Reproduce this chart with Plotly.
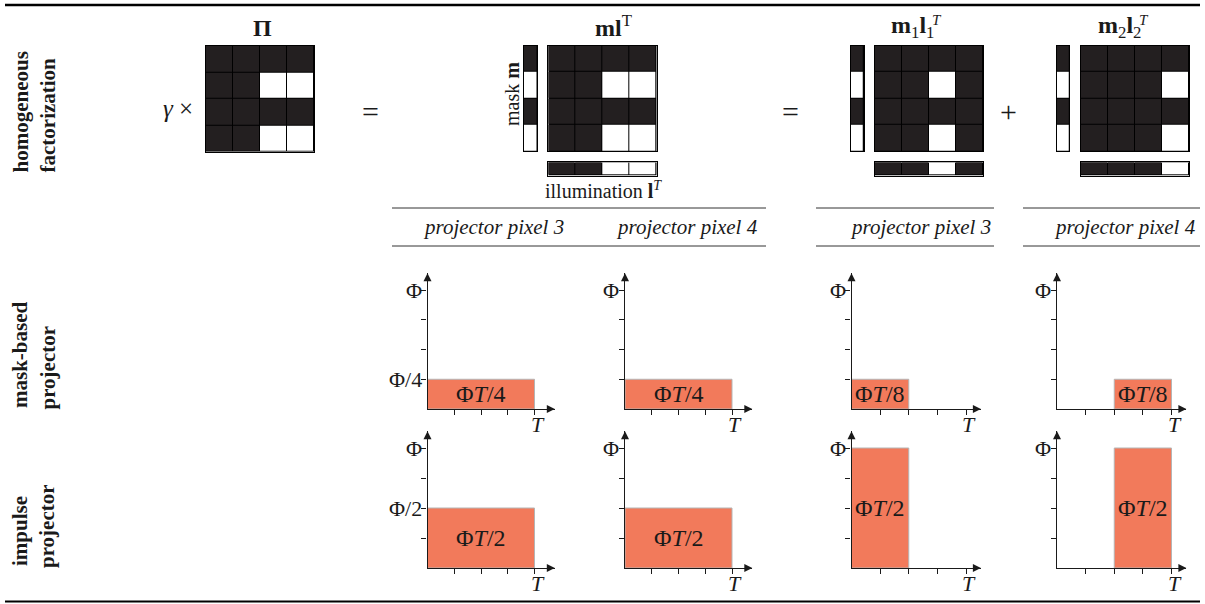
import plotly.graph_objects as go

W, H = 1205, 604

# ---------------- data ----------------
# matrices: 1 = dark cell, 0 = white cell
PI = [[1, 1, 1, 1], [1, 1, 0, 0], [1, 1, 1, 1], [1, 1, 0, 0]]
MASK_M = [1, 0, 1, 0]
ILLUM_L = [1, 1, 0, 0]
ML = [[1, 1, 1, 1], [1, 1, 0, 0], [1, 1, 1, 1], [1, 1, 0, 0]]
MASK_M1 = [1, 0, 1, 0]
ILLUM_L1 = [1, 1, 0, 1]
M1L1 = [[1, 1, 1, 1], [1, 1, 0, 1], [1, 1, 1, 1], [1, 1, 0, 1]]
MASK_M2 = [1, 0, 1, 0]
ILLUM_L2 = [1, 1, 1, 0]
M2L2 = [[1, 1, 1, 1], [1, 1, 1, 0], [1, 1, 1, 1], [1, 1, 1, 0]]

COL_TITLES = ["projector pixel 3", "projector pixel 4",
              "projector pixel 3", "projector pixel 4"]
ROW_LABELS = [["homogeneous", "factorization"],
              ["mask-based", "projector"],
              ["impulse", "projector"]]

# exposure diagrams (time in units of T, intensity in units of Phi)
MASK_START = [0, 0, 0, 0.5]
MASK_END = [1, 1, 0.5, 1]
MASK_HEIGHT = [0.25, 0.25, 0.25, 0.25]
MASK_LABEL = ["Φ<i>T</i>/4", "Φ<i>T</i>/4", "Φ<i>T</i>/8", "Φ<i>T</i>/8"]
IMP_START = [0, 0, 0, 0.5]
IMP_END = [1, 1, 0.5, 1]
IMP_HEIGHT = [0.5, 0.5, 1, 1]
IMP_LABEL = ["Φ<i>T</i>/2", "Φ<i>T</i>/2", "Φ<i>T</i>/2", "Φ<i>T</i>/2"]

X_TICKS = [0.25, 0.5, 0.75, 1]
X_TICKTEXT = ["", "", "", "<i>T</i>"]
Y_TICKS = [0.25, 0.5, 0.75, 1]
MASK_YTICKTEXT = [["Φ/4", "", "", "Φ"], ["", "", "", "Φ"],
                  ["", "", "", "Φ"], ["", "", "", "Φ"]]
IMP_YTICKTEXT = [["", "Φ/2", "", "Φ"], ["", "", "", "Φ"],
                 ["", "", "", "Φ"], ["", "", "", "Φ"]]

# ---------------- styles / layout geometry (pixels) ----------------
DARK = "#231f20"
FILL = "#f27a5b"
EDGE = "#b5b5b5"
INK = "#1a1a1a"
FONT = "Liberation Serif"

# plot columns: origin x, pixel width of T, arrow extension
PLOT_COLS = [(427.5, 107, 1.19), (625, 107, 1.19), (851.5, 114.5, 1.13), (1057, 114.5, 1.13)]
# plot rows: origin y, pixel height of Phi
PLOT_ROWS = [(409, 119), (568, 120)]
YEND = 1.14


def px_x(a):
    return a / W


def px_y(a):
    return 1 - a / H


fig = go.Figure()
layout = {}
annotations = []
shapes = []
axis_id = [0]


def new_axes():
    axis_id[0] += 1
    n = axis_id[0]
    xa = "xaxis" if n == 1 else f"xaxis{n}"
    ya = "yaxis" if n == 1 else f"yaxis{n}"
    xr = "x" if n == 1 else f"x{n}"
    yr = "y" if n == 1 else f"y{n}"
    return xa, ya, xr, yr


def add_matrix(z, left, right, top, bottom):
    xa, ya, xr, yr = new_axes()
    nr, nc = len(z), len(z[0])
    fig.add_trace(go.Heatmap(z=z, x=list(range(nc)), y=list(range(nr)),
                             colorscale=[[0, "#ffffff"], [1, DARK]], zmin=0, zmax=1,
                             showscale=False, xgap=1, ygap=1, hoverinfo="skip",
                             xaxis=xr, yaxis=yr))
    common = dict(showgrid=False, zeroline=False, showticklabels=False, ticks="",
                  showline=True, mirror=True, linecolor="black", linewidth=1, fixedrange=True)
    layout[xa] = dict(domain=[px_x(left), px_x(right)], range=[-0.5, nc - 0.5],
                      anchor=yr, **common)
    layout[ya] = dict(domain=[px_y(bottom), px_y(top)], range=[nr - 0.5, -0.5],
                      anchor=xr, **common)
    shapes.append(dict(type="rect", xref=xr, yref=yr, x0=-0.5, x1=nc - 0.5,
                       y0=-0.5, y1=nr - 0.5, fillcolor="black", line=dict(width=0),
                       layer="below"))


def col(v):
    return [[a] for a in v]


# homogeneous factorization row
add_matrix(PI, 206, 314, 45.7, 151.7)
add_matrix(col(MASK_M), 523.5, 537.3, 45.7, 151.3)
add_matrix(ML, 548.3, 656.7, 45.7, 151.3)
add_matrix([ILLUM_L], 548.3, 656.7, 162.3, 175.5)
add_matrix(col(MASK_M1), 850.7, 864, 45.7, 151.3)
add_matrix(M1L1, 875, 983.3, 45.7, 151.3)
add_matrix([ILLUM_L1], 875, 983.3, 162.3, 175.5)
add_matrix(col(MASK_M2), 1056.7, 1069.3, 45.7, 151.3)
add_matrix(M2L2, 1081, 1189.3, 45.7, 151.3)
add_matrix([ILLUM_L2], 1081, 1189.3, 162.3, 175.5)


def add_plot(ci, ri, s, e, h, label, ytext):
    x0, wT, xend = PLOT_COLS[ci]
    y0, hP = PLOT_ROWS[ri]
    xa, ya, xr, yr = new_axes()
    fig.add_trace(go.Bar(x=[(s + e) / 2], y=[h], width=[e - s], base=0,
                         marker=dict(color=FILL, line=dict(color=EDGE, width=1)),
                         hoverinfo="skip", xaxis=xr, yaxis=yr, showlegend=False))
    # arrowheads at the ends of the axes
    fig.add_trace(go.Scatter(x=[xend, 0], y=[0, YEND], mode="markers", cliponaxis=False,
                             marker=dict(symbol=["arrow-right", "arrow-up"], size=8,
                                         color=INK, line=dict(width=0)),
                             hoverinfo="skip", xaxis=xr, yaxis=yr, showlegend=False))
    common = dict(showgrid=False, zeroline=False, showline=True, linecolor=INK,
                  linewidth=1.2, ticks="outside", layer="above traces",
                  ticklen=5, tickwidth=1, tickcolor=INK, fixedrange=True,
                  showticklabels=False)
    layout[xa] = dict(domain=[px_x(x0), px_x(x0 + wT * xend)], range=[0, xend],
                      anchor=yr, tickvals=X_TICKS, **common)
    layout[ya] = dict(domain=[px_y(y0), px_y(y0 - hP * YEND)], range=[0, YEND],
                      anchor=xr, tickvals=Y_TICKS, **common)
    # tick labels
    for v, t in zip(X_TICKS, X_TICKTEXT):
        if t:
            annotations.append(dict(x=v, y=0, xref=xr, yref=yr, text=t, showarrow=False,
                                    xanchor="center", yanchor="top", xshift=3, yshift=-1,
                                    font=dict(family=FONT, size=22, color=INK)))
    for v, t in zip(Y_TICKS, ytext):
        if t:
            annotations.append(dict(x=0, y=v, xref=xr, yref=yr, text=t, showarrow=False,
                                    xanchor="right", yanchor="middle", xshift=-4,
                                    font=dict(family=FONT, size=22, color=INK)))
    annotations.append(dict(x=(s + e) / 2, y=h / 2, xref=xr, yref=yr, text=label,
                            showarrow=False, font=dict(family=FONT, size=24, color=INK)))


for i in range(4):
    add_plot(i, 0, MASK_START[i], MASK_END[i], MASK_HEIGHT[i], MASK_LABEL[i], MASK_YTICKTEXT[i])
for i in range(4):
    add_plot(i, 1, IMP_START[i], IMP_END[i], IMP_HEIGHT[i], IMP_LABEL[i], IMP_YTICKTEXT[i])


def text(x, y, s, size=21, angle=0, **kw):
    annotations.append(dict(x=px_x(x), y=px_y(y), xref="paper", yref="paper", text=s,
                            showarrow=False, textangle=angle, xanchor="center", yanchor="middle",
                            font=dict(family=FONT, size=size, color=INK), **kw))


# titles
text(262, 28, "<b>Π</b>", 24)
text(613, 26, "<b>ml</b><sup>T</sup>", 24)
text(912, 27, "<b>m</b><sub>1</sub><b>l</b><sub>1</sub>", 24)
text(937, 20, "<i>T</i>", 15)
text(1119, 27, "<b>m</b><sub>2</sub><b>l</b><sub>2</sub>", 24)
text(1144, 20, "<i>T</i>", 15)
text(178, 108, "<i>γ</i> ×", 25)
text(370, 111, "=", 30)
text(790, 111, "=", 30)
text(1008, 111, "+", 30)
text(512, 94, "mask <b>m</b>", 20, -90)
text(603, 190, "illumination <b>l</b><sup><i>T</i></sup>", 20)

# column titles
for cx, s in zip([493.5, 687, 921, 1125], COL_TITLES):
    text(cx, 227, f"<i>{s}</i>", 21)

# row labels (rotated, bottom aligned)
row_pos = [[(20, 112.5), (47, 115.5)], [(20, 355), (47, 367.5)], [(20, 531), (47, 526)]]
for labels, pos in zip(ROW_LABELS, row_pos):
    for s, (x, y) in zip(labels, pos):
        text(x, y, f"<b>{s}</b>", 21, -90)


# rules
def hline(x0, x1, y, w, c=INK):
    shapes.append(dict(type="line", xref="paper", yref="paper", x0=px_x(x0), x1=px_x(x1),
                       y0=px_y(y), y1=px_y(y), line=dict(color=c, width=w)))


hline(5, 1200, 5, 2.5, "black")
hline(5, 1200, 601.5, 2.2, "black")
for a, b in [(392, 766), (816, 994), (1023, 1200)]:
    hline(a, b, 208, 1, "#333")
    hline(a, b, 246, 1, "#333")

fig.update_layout(width=W, height=H, autosize=False, margin=dict(l=0, r=0, t=0, b=0),
                  paper_bgcolor="white", plot_bgcolor="rgba(0,0,0,0)", showlegend=False,
                  annotations=annotations, shapes=shapes,
                  font=dict(family=FONT, color=INK), **layout)
fig.write_html("out.html", config={"displayModeBar": False},
               post_script="document.body.style.margin='0px';")
